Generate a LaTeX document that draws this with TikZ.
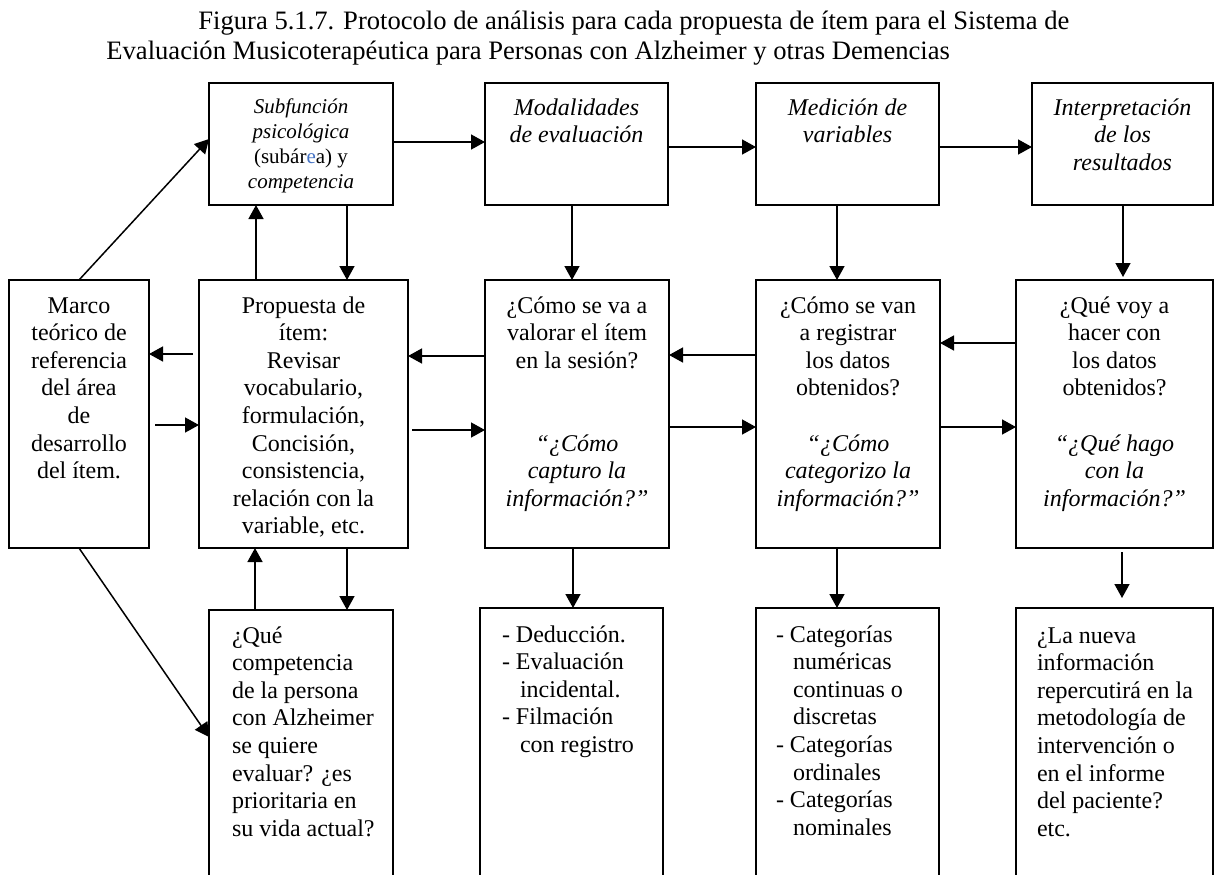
\documentclass[tikz,border=0pt]{standalone}
\usepackage{fontspec}
\setmainfont{Liberation Serif}
\usetikzlibrary{arrows.meta}
\definecolor{accentblue}{RGB}{68,114,196}
\tikzset{
  box/.style={draw, line width=0.8pt, inner sep=0pt, outer sep=0pt, anchor=north west},
  arr/.style={line width=0.75pt, -{Triangle[length=7pt,width=7.5pt]}},
  basetext/.style={inner sep=0pt, outer sep=0pt, font=\fontsize{12}{13.8}\selectfont,
    execute at begin node={\parindent=0pt\strut}},
  ctext/.style={basetext, anchor=north, align=flush center},
  ltext/.style={basetext, anchor=north west, align=flush left},
  ttl/.style={inner sep=0pt, anchor=base west, font=\fontsize{13.3}{15}\selectfont},
}
\begin{document}
\begin{tikzpicture}[x=0.5pt,y=-0.5pt]
\useasboundingbox (0,0) rectangle (1216,874);
\clip (0,0) rectangle (1216,874);

% title
\node[ttl] (title1) at (198,29) {Figura 5.1.7. Protocolo de análisis para cada propuesta de ítem para el Sistema de};
\node[ttl] (title2) at (106,59) {Evaluación Musicoterapéutica para Personas con Alzheimer y otras Demencias};

% boxes
\node[box, minimum width=92pt,   minimum height=61pt]  (A)  at (209,83)   {};
\node[box, minimum width=91.5pt, minimum height=61pt]  (B)  at (485,83)   {};
\node[box, minimum width=91.5pt, minimum height=61pt]  (C)  at (756,83)   {};
\node[box, minimum width=90.5pt, minimum height=61pt]  (D)  at (1032,83)  {};
\node[box, minimum width=70pt,   minimum height=134pt] (M)  at (9,280)    {};
\node[box, minimum width=104.5pt,minimum height=134pt] (P)  at (199,280)  {};
\node[box, minimum width=92pt,   minimum height=134pt] (Q1) at (485,280)  {};
\node[box, minimum width=92pt,   minimum height=134pt] (Q2) at (756,280)  {};
\node[box, minimum width=98.5pt, minimum height=134pt] (Q3) at (1016,280) {};
\node[box, minimum width=92pt,   minimum height=150pt] (R1) at (209,610)  {};
\node[box, minimum width=91.5pt, minimum height=150pt] (R2) at (480,608)  {};
\node[box, minimum width=91.5pt, minimum height=150pt] (R3) at (756,608)  {};
\node[box, minimum width=98.5pt, minimum height=150pt] (R4) at (1016,608) {};

% texts top row
\node[ctext, text width=85pt, font=\fontsize{10.5}{12.5}\selectfont] (tA) at (301,95.5)
  {\textit{Subfunción}\\\textit{psicológica}\\(subár\textcolor{accentblue}{e}a) y\\\textit{competencia}};
\node[ctext, text width=85pt] (tB) at (576.5,95.7) {\itshape Modalidades\\de evaluación};
\node[ctext, text width=85pt] (tC) at (847.5,95.7) {\itshape Medición de\\variables};
\node[ctext, text width=85pt] (tD) at (1122.5,95.7) {\itshape Interpretación\\de los\\resultados};

% texts middle row
\node[ctext, text width=65pt] (tM) at (79,293.7)
  {Marco\\teórico de\\referencia\\del área\\de\\desarrollo\\del ítem.};
\node[ctext, text width=100pt] (tP) at (303.5,293.7)
  {Propuesta de\\ítem:\\Revisar\\vocabulario,\\formulación,\\Concisión,\\consistencia,\\relación con la\\variable, etc.};
\node[ctext, text width=88pt] (tQ1) at (577,293.7)
  {¿Cómo se va a\\valorar el ítem\\en la sesión?\\[27.6pt]\itshape “¿Cómo\\capturo la\\información?”};
\node[ctext, text width=88pt] (tQ2) at (848,293.7)
  {¿Cómo se van\\a registrar\\los datos\\obtenidos?\\[13.8pt]\itshape “¿Cómo\\categorizo la\\información?”};
\node[ctext, text width=95pt] (tQ3) at (1114.5,293.7)
  {¿Qué voy a\\hacer con\\los datos\\obtenidos?\\[13.8pt]\itshape “¿Qué hago\\con la\\información?”};

% texts bottom row
\node[ltext, text width=80pt] (tR1) at (232,623.7)
  {¿Qué\\competencia\\de la persona\\con Alzheimer\\se quiere\\evaluar? ¿es\\prioritaria en\\su vida actual?};
\node[ltext, text width=78pt] (tR2) at (502,622.7)
  {- Deducción.\\- Evaluación\\\hspace*{9pt}incidental.\\- Filmación\\\hspace*{9pt}con registro};
\node[ltext, text width=78pt] (tR3) at (776,622.7)
  {- Categorías\\\hspace*{8.5pt}numéricas\\\hspace*{8.5pt}continuas o\\\hspace*{8.5pt}discretas\\- Categorías\\\hspace*{8.5pt}ordinales\\- Categorías\\\hspace*{8.5pt}nominales};
\node[ltext, text width=85pt] (tR4) at (1037,623.7)
  {¿La nueva\\información\\repercutirá en la\\metodología de\\intervención o\\en el informe\\del paciente?\\etc.};

% top row horizontal arrows
\draw[arr] ([yshift=1pt]A.east) -- ([yshift=1pt]B.west);
\draw[arr] ([yshift=-1.5pt]B.east) -- ([yshift=-1.5pt]C.west);
\draw[arr] ([yshift=-1.5pt]C.east) -- ([yshift=-1.5pt]D.west);

% diagonals from Marco
\draw[arr] (M.north) -- ([yshift=2.5pt]A.west);
\draw[arr] (M.south) -- ([yshift=-63.5pt]R1.north west);

% verticals top -> middle
\draw[arr] ([xshift=69pt]A.south west) -- ([xshift=74pt]P.north west);
\draw[arr] ([xshift=28.5pt]P.north west) -- ([xshift=23.5pt]A.south west);
\draw[arr] ([xshift=43.5pt]B.south west) -- ([xshift=43.5pt]Q1.north west);
\draw[arr] ([xshift=40.5pt]C.south west) -- ([xshift=40.5pt]Q2.north west);
\draw[arr] ([xshift=45.5pt]D.south west) -- ([xshift=53.5pt,yshift=1.5pt]Q3.north west);

% middle horizontal arrows
\draw[arr] ([xshift=-3pt,yshift=30pt]P.west) -- ([yshift=30pt]M.east);
\draw[arr] ([xshift=3pt,yshift=-5.5pt]M.east) -- ([yshift=-5.5pt]P.west);
\draw[arr] ([yshift=29pt]Q1.west) -- ([yshift=29pt]P.east);
\draw[arr] ([xshift=2pt,yshift=-8pt]P.east) -- ([yshift=-8pt]Q1.west);
\draw[arr] ([yshift=29.5pt]Q2.west) -- ([yshift=29.5pt]Q1.east);
\draw[arr] ([yshift=-6.5pt]Q1.east) -- ([yshift=-6.5pt]Q2.west);
\draw[arr] ([yshift=35.5pt]Q3.west) -- ([yshift=35.5pt]Q2.east);
\draw[arr] ([yshift=-6.5pt]Q2.east) -- ([yshift=-6.5pt]Q3.west);

% verticals middle -> bottom
\draw[arr] ([xshift=23pt]R1.north west) -- ([xshift=28pt]P.south west);
\draw[arr] ([xshift=74pt]P.south west) -- ([xshift=69pt]R1.north west);
\draw[arr] ([xshift=44pt]Q1.south west) -- ([xshift=46.5pt]R2.north west);
\draw[arr] ([xshift=40.5pt]Q2.south west) -- ([xshift=40.5pt]R3.north west);
\draw[arr] ([xshift=53pt,yshift=-2pt]Q3.south west) -- ([xshift=53pt,yshift=5pt]R4.north west);
\end{tikzpicture}
\end{document}
